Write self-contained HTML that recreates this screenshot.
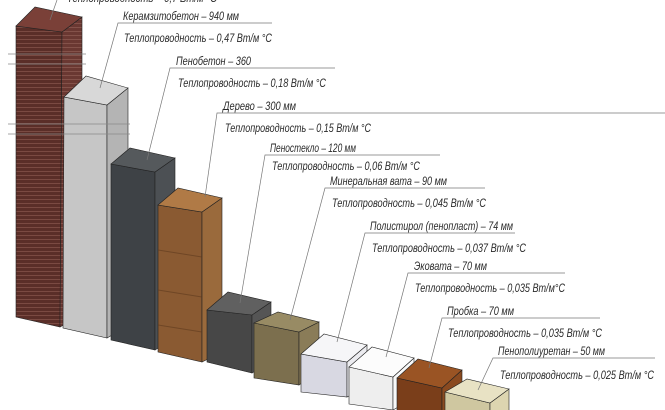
<!DOCTYPE html>
<html><head><meta charset="utf-8"><style>
html,body{margin:0;padding:0;background:#fff;width:665px;height:410px;overflow:hidden}
svg{display:block}
text{font-family:"Liberation Sans",sans-serif;font-style:italic;font-size:11.5px;fill:#2a2a2a}
</style></head><body>
<svg width="665" height="410" viewBox="0 0 665 410">
<defs>
<pattern id="brk" width="6" height="4" patternUnits="userSpaceOnUse"><rect width="6" height="4" fill="#5a2e28"/><rect y="3" width="6" height="1" fill="#7a4a42"/></pattern>
<pattern id="brk2" width="6" height="4" patternUnits="userSpaceOnUse"><rect width="6" height="4" fill="#6a3832"/><rect y="3" width="6" height="1" fill="#84524a"/></pattern>
</defs>
<g stroke="#222" stroke-width="0.6">
<polygon points="16,26 62,32 60,327 16,317" fill="url(#brk)"/>
<polygon points="62,32 82,17 82,315 60,327" fill="url(#brk2)"/>
<polygon points="16,26 35,7 82,17 62,32" fill="#7a4038"/>
<polygon points="64,97 107,105 107,338 63,328" fill="#c6c6c6"/>
<polygon points="107,105 128,88 128,326 107,338" fill="#b4b4b4"/>
<polygon points="64,97 86,76 128,88 107,105" fill="#d8d8d8"/>
<polygon points="111,164 155,172 155,350 111,340" fill="#3e4246"/>
<polygon points="155,172 175,158 175,338 155,350" fill="#4c5054"/>
<polygon points="111,164 130,148 175,158 155,172" fill="#55595c"/>
<polygon points="158,205 202,212 202,362 158,352" fill="#8a5a32"/>
<polygon points="202,212 222,198 222,352 202,362" fill="#9a6a3c"/>
<polygon points="158,205 178,188 222,198 202,212" fill="#b07a46"/>
<polygon points="207,310 252,315 252,373 207,362" fill="#474747"/>
<polygon points="252,315 271,302 271,362 252,373" fill="#555"/>
<polygon points="207,310 228,292 271,302 252,315" fill="#606060"/>
<polygon points="254,323 299,332 299,385 254,378" fill="#7c6f4e"/>
<polygon points="299,332 319,322 319,372 299,385" fill="#8a7c58"/>
<polygon points="254,323 278,312 319,322 299,332" fill="#988b64"/>
<polygon points="301,354 347,362 347,397 301,392" fill="#d8d8e2"/>
<polygon points="347,362 367,345 367,387 347,397" fill="#ececf0"/>
<polygon points="301,354 324,334 367,345 347,362" fill="#f6f6f8"/>
<polygon points="349,367 393,377 393,410 349,404" fill="#eeeeee"/>
<polygon points="393,377 414,358 414,398 393,410" fill="#f8f8f8"/>
<polygon points="349,367 372,347 414,358 393,377" fill="#fcfcfc"/>
<polygon points="397,378 442,388 442,415 397,415" fill="#7a3e1a"/>
<polygon points="442,388 462,370 462,415 442,415" fill="#8a4a20"/>
<polygon points="397,378 418,359 462,370 442,388" fill="#9a5424"/>
<polygon points="445,392 490,403 490,420 445,420" fill="#cfc7a0"/>
<polygon points="490,403 509,389 509,420 490,420" fill="#ddd5b0"/>
<polygon points="445,392 467,379 509,389 490,403" fill="#e8e2c4"/>
</g>
<g stroke="#5e3a1e" stroke-width="1" opacity="0.6"><line x1="158" y1="250" x2="202" y2="257"/><line x1="158" y1="290" x2="202" y2="297"/><line x1="158" y1="325" x2="202" y2="332"/></g>
<g stroke="#888" stroke-width="0.8">
<line x1="8" y1="54" x2="86" y2="54"/><line x1="8" y1="64" x2="86" y2="64"/>
<line x1="8" y1="124" x2="130" y2="124"/><line x1="8" y1="134" x2="130" y2="134"/>
</g>
<g stroke="#777" stroke-width="0.7" fill="none">
<polyline points="50,20 57,0"/>
<polyline points="100,88 118,23 272,23"/>
<polyline points="147,160 170,68 335,68"/>
<polyline points="205,197 217,113 665,113"/>
<polyline points="240,303 265,155 440,155"/>
<polyline points="290,320 325,188 485,188"/>
<polyline points="337,342 365,233 515,233"/>
<polyline points="386,357 408,273 565,273"/>
<polyline points="429,368 442,318 600,318"/>
<polyline points="478,390 493,358 655,358"/>
</g>
<text x="67" y="2" textLength="150" lengthAdjust="spacingAndGlyphs">Теплопроводность – 0,7 Вт/м °С</text>
<text x="123" y="20" textLength="116" lengthAdjust="spacingAndGlyphs">Керамзитобетон – 940 мм</text>
<text x="124" y="42" textLength="148" lengthAdjust="spacingAndGlyphs">Теплопроводность – 0,47 Вт/м °С</text>
<text x="176" y="65" textLength="75" lengthAdjust="spacingAndGlyphs">Пенобетон – 360</text>
<text x="178" y="87" textLength="148" lengthAdjust="spacingAndGlyphs">Теплопроводность – 0,18 Вт/м °С</text>
<text x="223" y="110" textLength="73" lengthAdjust="spacingAndGlyphs">Дерево – 300 мм</text>
<text x="225" y="132" textLength="146" lengthAdjust="spacingAndGlyphs">Теплопроводность – 0,15 Вт/м °С</text>
<text x="270" y="152" textLength="86" lengthAdjust="spacingAndGlyphs">Пеностекло – 120 мм</text>
<text x="272" y="170" textLength="148" lengthAdjust="spacingAndGlyphs">Теплопроводность – 0,06 Вт/м °С</text>
<text x="330" y="185" textLength="117" lengthAdjust="spacingAndGlyphs">Минеральная вата – 90 мм</text>
<text x="332" y="207" textLength="154" lengthAdjust="spacingAndGlyphs">Теплопроводность – 0,045 Вт/м °С</text>
<text x="370" y="230" textLength="143" lengthAdjust="spacingAndGlyphs">Полистирол (пенопласт) – 74 мм</text>
<text x="372" y="252" textLength="154" lengthAdjust="spacingAndGlyphs">Теплопроводность – 0,037 Вт/м °С</text>
<text x="414" y="270" textLength="73" lengthAdjust="spacingAndGlyphs">Эковата – 70 мм</text>
<text x="415" y="292" textLength="150" lengthAdjust="spacingAndGlyphs">Теплопроводность – 0,035 Вт/м°С</text>
<text x="447" y="315" textLength="67" lengthAdjust="spacingAndGlyphs">Пробка – 70 мм</text>
<text x="448" y="337" textLength="154" lengthAdjust="spacingAndGlyphs">Теплопроводность – 0,035 Вт/м °С</text>
<text x="498" y="355" textLength="107" lengthAdjust="spacingAndGlyphs">Пенополиуретан – 50 мм</text>
<text x="500" y="379" textLength="154" lengthAdjust="spacingAndGlyphs">Теплопроводность – 0,025 Вт/м °С</text>
</svg>
</body></html>
